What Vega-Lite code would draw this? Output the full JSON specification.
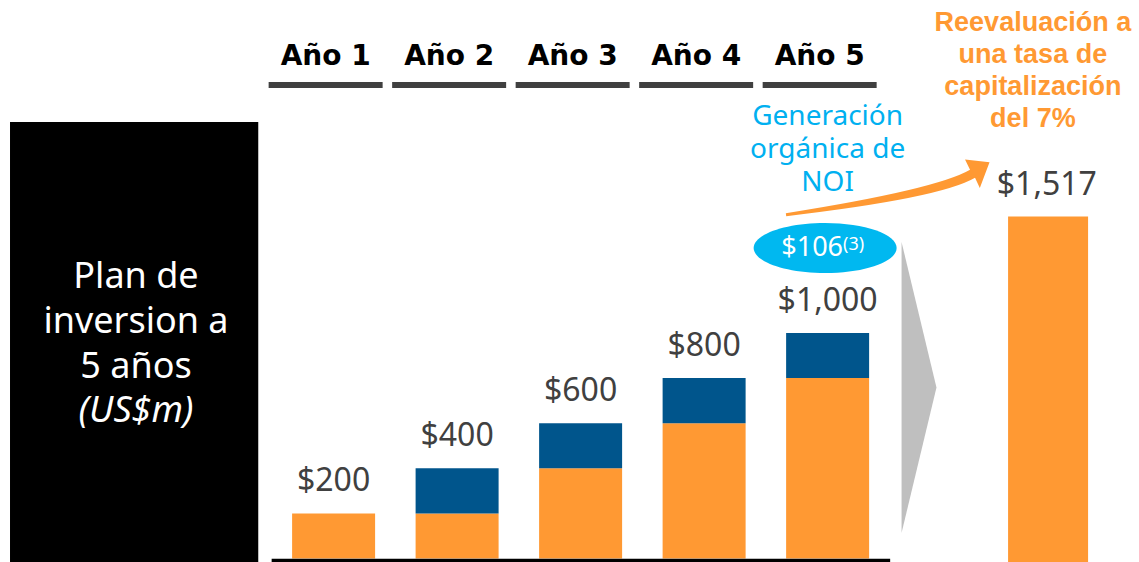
{
  "$schema": "https://vega.github.io/schema/vega-lite/v6.json",
  "width": 1139,
  "height": 562,
  "autosize": {"type": "none"},
  "padding": 0,
  "background": "white",
  "config": {"view": {"stroke": null}},
  "datasets": {
    "inversion": [
      {"anio": 1, "periodo": "Año 1", "componente": "Acumulado", "monto": 200},
      {"anio": 2, "periodo": "Año 2", "componente": "Acumulado", "monto": 200},
      {"anio": 2, "periodo": "Año 2", "componente": "Nuevo", "monto": 200},
      {"anio": 3, "periodo": "Año 3", "componente": "Acumulado", "monto": 400},
      {"anio": 3, "periodo": "Año 3", "componente": "Nuevo", "monto": 200},
      {"anio": 4, "periodo": "Año 4", "componente": "Acumulado", "monto": 600},
      {"anio": 4, "periodo": "Año 4", "componente": "Nuevo", "monto": 200},
      {"anio": 5, "periodo": "Año 5", "componente": "Acumulado", "monto": 800},
      {"anio": 5, "periodo": "Año 5", "componente": "Nuevo", "monto": 200}
    ],
    "reevaluacion": [
      {"concepto": "Reevaluación a una tasa de capitalización del 7%", "monto": 1517}
    ],
    "noi": [
      {"concepto": "Generación orgánica de NOI", "monto": 106, "nota": "(3)"}
    ],
    "uno": [{}]
  },
  "layer": [
    {
      "data": {"name": "uno"},
      "mark": {"type": "rect", "fill": "#000000"},
      "encoding": {
        "x": {"datum": -1.62, "type": "quantitative", "scale": {"domain": [-1.6606, 7.4807], "nice": false, "zero": false}, "axis": null},
        "x2": {"datum": 0.39},
        "y": {"datum": 1935.7, "type": "quantitative", "scale": {"domain": [-15.5, 2476.7], "nice": false, "zero": false}, "axis": null},
        "y2": {"datum": -15.5}
      }
    },
    {
      "data": {"name": "uno"},
      "mark": {"type": "text", "font": "Noto Sans", "fontSize": 36, "fill": "#FFFFFF", "align": "center", "baseline": "alphabetic", "lineHeight": 45},
      "encoding": {
        "x": {"datum": -0.6, "type": "quantitative", "scale": {"domain": [-1.6606, 7.4807], "nice": false, "zero": false}, "axis": null},
        "y": {"datum": 1199.6, "type": "quantitative", "scale": {"domain": [-15.5, 2476.7], "nice": false, "zero": false}, "axis": null},
        "text": {"value": ["Plan de", "inversion a", "5 años"]}
      }
    },
    {
      "data": {"name": "uno"},
      "mark": {"type": "text", "font": "Noto Sans", "fontSize": 36, "fontStyle": "italic", "fill": "#FFFFFF", "align": "center", "baseline": "alphabetic"},
      "encoding": {
        "x": {"datum": -0.6, "type": "quantitative", "scale": {"domain": [-1.6606, 7.4807], "nice": false, "zero": false}, "axis": null},
        "y": {"datum": 605.3, "type": "quantitative", "scale": {"domain": [-15.5, 2476.7], "nice": false, "zero": false}, "axis": null},
        "text": {"value": "(US$m)"}
      }
    },
    {
      "data": {"name": "inversion"},
      "transform": [
        {"aggregate": [{"op": "sum", "field": "monto", "as": "total"}], "groupby": ["anio", "periodo"]},
        {"calculate": "datum.anio - 0.064", "as": "xh"}
      ],
      "mark": {"type": "text", "font": "DejaVu Sans", "fontWeight": "bold", "fontSize": 28, "fill": "#000000", "align": "center", "baseline": "alphabetic"},
      "encoding": {
        "x": {"field": "xh", "type": "quantitative", "scale": {"domain": [-1.6606, 7.4807], "nice": false, "zero": false}, "axis": null},
        "y": {"datum": 2188, "type": "quantitative", "scale": {"domain": [-15.5, 2476.7], "nice": false, "zero": false}, "axis": null},
        "text": {"field": "periodo"}
      }
    },
    {
      "data": {"name": "inversion"},
      "transform": [
        {"aggregate": [{"op": "sum", "field": "monto", "as": "total"}], "groupby": ["anio", "periodo"]},
        {"calculate": "datum.anio - 0.526", "as": "xa"},
        {"calculate": "datum.anio + 0.397", "as": "xb"}
      ],
      "mark": {"type": "rect", "fill": "#404040"},
      "encoding": {
        "x": {"field": "xa", "type": "quantitative", "scale": {"domain": [-1.6606, 7.4807], "nice": false, "zero": false}, "axis": null},
        "x2": {"field": "xb"},
        "y": {"datum": 2113, "type": "quantitative", "scale": {"domain": [-15.5, 2476.7], "nice": false, "zero": false}, "axis": null},
        "y2": {"datum": 2086.5}
      }
    },
    {
      "data": {"name": "inversion"},
      "transform": [
        {"stack": "monto", "groupby": ["anio"], "sort": [{"field": "componente", "order": "ascending"}], "as": ["y0", "y1"]}
      ],
      "mark": {"type": "bar", "width": 83},
      "encoding": {
        "x": {"field": "anio", "type": "quantitative", "scale": {"domain": [-1.6606, 7.4807], "nice": false, "zero": false}, "axis": null},
        "y": {"field": "y1", "type": "quantitative", "scale": {"domain": [-15.5, 2476.7], "nice": false, "zero": false}, "axis": null},
        "y2": {"field": "y0"},
        "color": {"field": "componente", "type": "nominal", "scale": {"domain": ["Acumulado", "Nuevo"], "range": ["#FF9933", "#00558C"]}, "legend": null}
      }
    },
    {
      "data": {"name": "uno"},
      "mark": {"type": "rule", "stroke": "#000000", "strokeWidth": 3.5},
      "encoding": {
        "x": {"datum": 0.4984, "type": "quantitative", "scale": {"domain": [-1.6606, 7.4807], "nice": false, "zero": false}, "axis": null},
        "x2": {"datum": 5.5064},
        "y": {"datum": -8.87, "type": "quantitative", "scale": {"domain": [-15.5, 2476.7], "nice": false, "zero": false}, "axis": null}
      }
    },
    {
      "data": {"name": "inversion"},
      "transform": [
        {"aggregate": [{"op": "sum", "field": "monto", "as": "total"}], "groupby": ["anio", "periodo"]}
      ],
      "mark": {"type": "text", "font": "Noto Sans", "fontSize": 32, "fill": "#404040", "align": "center", "baseline": "alphabetic", "dy": -22},
      "encoding": {
        "x": {"field": "anio", "type": "quantitative", "scale": {"domain": [-1.6606, 7.4807], "nice": false, "zero": false}, "axis": null},
        "y": {"field": "total", "type": "quantitative", "scale": {"domain": [-15.5, 2476.7], "nice": false, "zero": false}, "axis": null},
        "text": {"field": "total", "type": "quantitative", "format": "$,.0f"}
      }
    },
    {
      "data": {"name": "reevaluacion"},
      "mark": {"type": "bar", "width": 80, "fill": "#FF9933"},
      "encoding": {
        "x": {"datum": 6.785, "type": "quantitative", "scale": {"domain": [-1.6606, 7.4807], "nice": false, "zero": false}, "axis": null},
        "y": {"field": "monto", "type": "quantitative", "scale": {"domain": [-15.5, 2476.7], "nice": false, "zero": false}, "axis": null},
        "y2": {"datum": -15.5}
      }
    },
    {
      "data": {"name": "reevaluacion"},
      "mark": {"type": "text", "font": "Noto Sans", "fontSize": 32, "fill": "#404040", "align": "center", "baseline": "alphabetic", "dy": -21},
      "encoding": {
        "x": {"datum": 6.775, "type": "quantitative", "scale": {"domain": [-1.6606, 7.4807], "nice": false, "zero": false}, "axis": null},
        "y": {"field": "monto", "type": "quantitative", "scale": {"domain": [-15.5, 2476.7], "nice": false, "zero": false}, "axis": null},
        "text": {"field": "monto", "type": "quantitative", "format": "$,.0f"}
      }
    },
    {
      "data": {"name": "uno"},
      "mark": {"type": "point", "shape": "M -0.12,-1 L 0.12,0 L -0.12,1 Z", "size": 84681, "filled": true, "fill": "#BFBFBF", "strokeWidth": 0, "opacity": 1},
      "encoding": {
        "x": {"datum": 5.74, "type": "quantitative", "scale": {"domain": [-1.6606, 7.4807], "nice": false, "zero": false}, "axis": null},
        "y": {"datum": 758.3, "type": "quantitative", "scale": {"domain": [-15.5, 2476.7], "nice": false, "zero": false}, "axis": null}
      }
    },
    {
      "data": {"name": "uno"},
      "mark": {"type": "point", "shape": "M -0.997,0.238 Q 0.475,0.005 0.809,-0.188 L 0.760,-0.290 L 1.0,-0.262 L 0.905,-0.010 L 0.858,-0.110 Q 0.515,0.090 -0.993,0.266 Z", "size": 41616, "filled": true, "fill": "#FF9933", "strokeWidth": 0, "opacity": 1},
      "encoding": {
        "x": {"datum": 5.485, "type": "quantitative", "scale": {"domain": [-1.6606, 7.4807], "nice": false, "zero": false}, "axis": null},
        "y": {"datum": 1638.6, "type": "quantitative", "scale": {"domain": [-15.5, 2476.7], "nice": false, "zero": false}, "axis": null}
      }
    },
    {
      "data": {"name": "uno"},
      "mark": {"type": "point", "shape": "M -1,0 A 1,0.35 0 1,1 1,0 A 1,0.35 0 1,1 -1,0 Z", "size": 20449, "filled": true, "fill": "#00B8F0", "strokeWidth": 0, "opacity": 1},
      "encoding": {
        "x": {"datum": 4.98, "type": "quantitative", "scale": {"domain": [-1.6606, 7.4807], "nice": false, "zero": false}, "axis": null},
        "y": {"datum": 1376.9, "type": "quantitative", "scale": {"domain": [-15.5, 2476.7], "nice": false, "zero": false}, "axis": null}
      }
    },
    {
      "data": {"name": "noi"},
      "mark": {"type": "text", "font": "Noto Sans", "fontSize": 27, "fill": "#FFFFFF", "align": "center", "baseline": "alphabetic"},
      "encoding": {
        "x": {"datum": 4.875, "type": "quantitative", "scale": {"domain": [-1.6606, 7.4807], "nice": false, "zero": false}, "axis": null},
        "y": {"datum": 1341.5, "type": "quantitative", "scale": {"domain": [-15.5, 2476.7], "nice": false, "zero": false}, "axis": null},
        "text": {"field": "monto", "type": "quantitative", "format": "$,.0f"}
      }
    },
    {
      "data": {"name": "noi"},
      "mark": {"type": "text", "font": "Noto Sans", "fontSize": 18, "fill": "#FFFFFF", "align": "left", "baseline": "alphabetic"},
      "encoding": {
        "x": {"datum": 5.125, "type": "quantitative", "scale": {"domain": [-1.6606, 7.4807], "nice": false, "zero": false}, "axis": null},
        "y": {"datum": 1368, "type": "quantitative", "scale": {"domain": [-15.5, 2476.7], "nice": false, "zero": false}, "axis": null},
        "text": {"field": "nota"}
      }
    },
    {
      "data": {"name": "uno"},
      "mark": {"type": "text", "font": "Noto Sans", "fontSize": 28, "fill": "#00B0F0", "align": "center", "baseline": "alphabetic", "lineHeight": 33},
      "encoding": {
        "x": {"datum": 5.0, "type": "quantitative", "scale": {"domain": [-1.6606, 7.4807], "nice": false, "zero": false}, "axis": null},
        "y": {"datum": 1922.4, "type": "quantitative", "scale": {"domain": [-15.5, 2476.7], "nice": false, "zero": false}, "axis": null},
        "text": {"value": ["Generación", "orgánica de", "NOI"]}
      }
    },
    {
      "data": {"name": "uno"},
      "mark": {"type": "text", "font": "Liberation Sans", "fontWeight": "bold", "fontSize": 27, "fill": "#FF9933", "align": "center", "baseline": "alphabetic", "lineHeight": 32},
      "encoding": {
        "x": {"datum": 6.662, "type": "quantitative", "scale": {"domain": [-1.6606, 7.4807], "nice": false, "zero": false}, "axis": null},
        "y": {"datum": 2339.2, "type": "quantitative", "scale": {"domain": [-15.5, 2476.7], "nice": false, "zero": false}, "axis": null},
        "text": {"value": ["Reevaluación a", "una tasa de", "capitalización", "del 7%"]}
      }
    }
  ]
}
